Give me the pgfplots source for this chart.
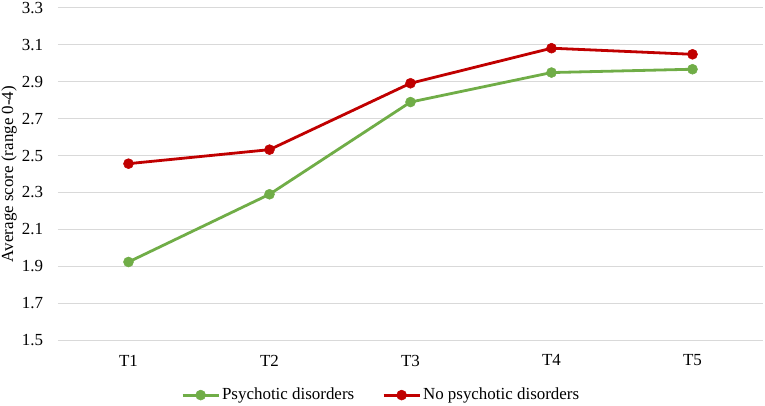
\documentclass[border=0pt]{standalone}
\usepackage{pgfplots}
\pgfplotsset{compat=1.18}
\usepackage{fontspec}
\setmainfont{Liberation Serif}
\definecolor{pgreen}{HTML}{70AD47}
\definecolor{pred}{HTML}{C00000}
\definecolor{gridc}{HTML}{D9D9D9}
\begin{document}
\fontsize{17}{20}\selectfont
\begin{tikzpicture}
\useasboundingbox (-58bp,-66bp) rectangle (707bp,340bp);
\begin{axis}[
  at={(0,0)}, anchor=south west,
  scale only axis, width=705bp, height=332bp,
  xmin=0.5, xmax=5.5, ymin=1.5, ymax=3.3,
  xtick={1,2,3,4,5}, xticklabels={T1,T2,T3,T4,T5},
  ytick={1.5,1.7,...,3.31},
  yticklabel={\pgfmathprintnumber[fixed,fixed zerofill,precision=1]{\tick}},
  /pgf/number format/assume math mode=true,
  axis line style={draw=none},
  major tick length=0pt,
  ymajorgrids, grid style={gridc, line width=1bp},
  yticklabel style={xshift=-9bp},
  xticklabel style={yshift=-9bp},
  ylabel={Average score (range 0-4)},
  every axis y label/.style={at={(axis description cs:-0.0695,0.5)},rotate=90,anchor=center},
  legend columns=2,
  legend style={at={(axis description cs:0.4585,-0.166)}, anchor=center, draw=none, fill=none,
    /tikz/every even column/.append style={column sep=26bp}},
  legend image code/.code={\draw[mark repeat=2,mark phase=2] plot coordinates {(0bp,0bp) (18bp,0bp) (36bp,0bp)};},
  tick label style={font=\fontsize{17}{20}\selectfont},
  label style={font=\fontsize{17}{20}\selectfont},
  legend style={font=\fontsize{17}{20}\selectfont},
]
\addplot[color=pgreen, line width=2.8bp, mark=*, mark size=5bp, mark options={fill=pgreen, line width=0.5bp}]
  coordinates {(1,1.923) (2,2.29) (3,2.79) (4,2.95) (5,2.968)};
\addlegendentry{Psychotic disorders}
\addplot[color=pred, line width=2.8bp, mark=*, mark size=5bp, mark options={fill=pred, line width=0.5bp}]
  coordinates {(1,2.456) (2,2.532) (3,2.892) (4,3.082) (5,3.049)};
\addlegendentry{No psychotic disorders}
\end{axis}
\end{tikzpicture}
\end{document}
